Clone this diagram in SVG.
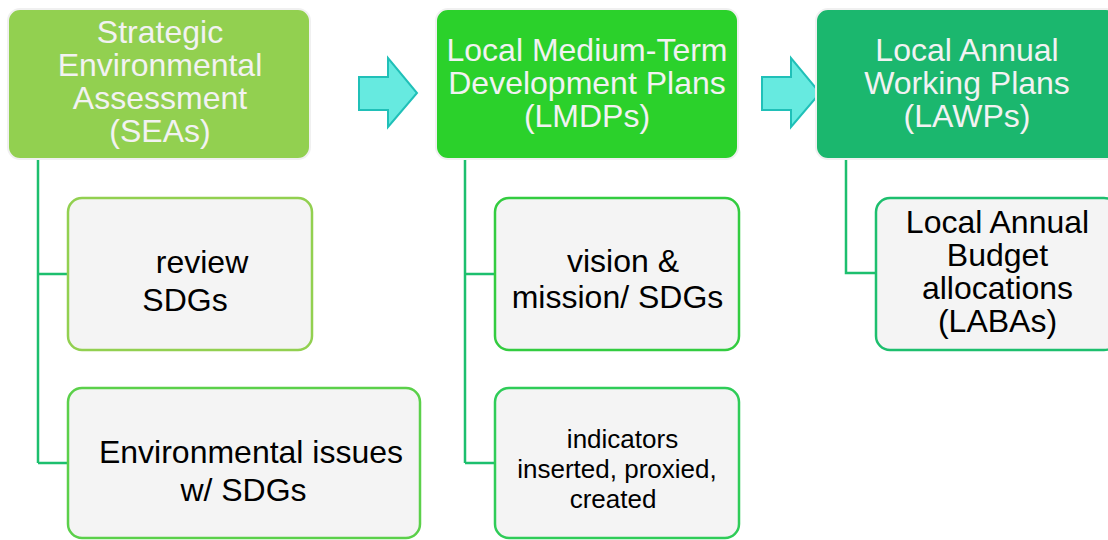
<svg xmlns="http://www.w3.org/2000/svg" width="1108" height="540" viewBox="0 0 1108 540">
<style>
text{font-family:"Liberation Sans",Arial,sans-serif}
.title{fill:#F2F2F2;font-size:32px;text-anchor:middle}
.sub{fill:#000000;font-size:32px;text-anchor:middle}
.small{fill:#000000;font-size:26px;text-anchor:middle}
.head{stroke:#F0F0F0;stroke-width:2}
.box{fill:#F4F4F4;stroke-width:2.5}
.conn{fill:none;stroke:#1DBF6E;stroke-width:2.5}
.arrow{fill:#66EAE0;stroke:#20C0B8;stroke-width:2;stroke-linejoin:miter}
</style>
<rect width="1108" height="540" fill="#FFFFFF"/>
<g id="connectors">
<path class="conn" d="M38 159 V463 M38 274 H68 M38 463 H68"/>
<path class="conn" d="M465 159 V463 M465 274 H495 M465 463 H495"/>
<path class="conn" d="M846 159 V273 H876"/>
<path id="arrow1" class="arrow" d="M359 77 H388 V58 L417 93 L388 127 V110 H359 Z"/>
<path id="arrow2" class="arrow" d="M762 77 H791 V58 L820 93 L791 127 V110 H762 Z"/>
</g>
<g id="sea">
<rect class="head" x="8" y="9" width="302" height="150" rx="12" fill="#92D050"/>
<text class="title" x="160" y="43">Strategic</text>
<text class="title" x="160" y="76">Environmental</text>
<text class="title" x="160" y="109">Assessment</text>
<text class="title" x="160" y="142">(SEAs)</text>
</g>
<g id="lmdp">
<rect class="head" x="436" y="9" width="302" height="150" rx="12" fill="#2BD12B"/>
<text class="title" x="587" y="61">Local Medium-Term</text>
<text class="title" x="587" y="94">Development Plans</text>
<text class="title" x="587" y="127">(LMDPs)</text>
</g>
<g id="lawp">
<rect class="head" x="816" y="9" width="302" height="150" rx="12" fill="#1BB76E"/>
<text class="title" x="967" y="61">Local Annual</text>
<text class="title" x="967" y="94">Working Plans</text>
<text class="title" x="967" y="127">(LAWPs)</text>
</g>
<g id="review">
<rect class="box" x="68" y="198" width="244" height="152" rx="14" stroke="#92D050"/>
<text class="sub" x="202" y="273">review</text>
<text class="sub" x="185" y="311">SDGs</text>
</g>
<g id="envissues">
<rect class="box" x="68" y="388" width="352" height="150" rx="14" stroke="#5BD04A"/>
<text class="sub" x="251" y="463">Environmental issues</text>
<text class="sub" x="243.5" y="501">w/ SDGs</text>
</g>
<g id="vision">
<rect class="box" x="495" y="198" width="244" height="152" rx="14" stroke="#33CC40"/>
<text class="sub" x="623" y="272">vision &amp;</text>
<text class="sub" x="617.5" y="308">mission/ SDGs</text>
</g>
<g id="indicators">
<rect class="box" x="495" y="388" width="244" height="150" rx="14" stroke="#2FCC58"/>
<text class="small" x="622.5" y="448">indicators</text>
<text class="small" x="617" y="478">inserted, proxied,</text>
<text class="small" x="613" y="508">created</text>
</g>
<g id="laba">
<rect class="box" x="876" y="198" width="242" height="152" rx="14" stroke="#1DBF6E"/>
<text class="sub" x="997.5" y="233">Local Annual</text>
<text class="sub" x="997.5" y="266">Budget</text>
<text class="sub" x="997.5" y="299">allocations</text>
<text class="sub" x="997.5" y="332">(LABAs)</text>
</g>
</svg>
